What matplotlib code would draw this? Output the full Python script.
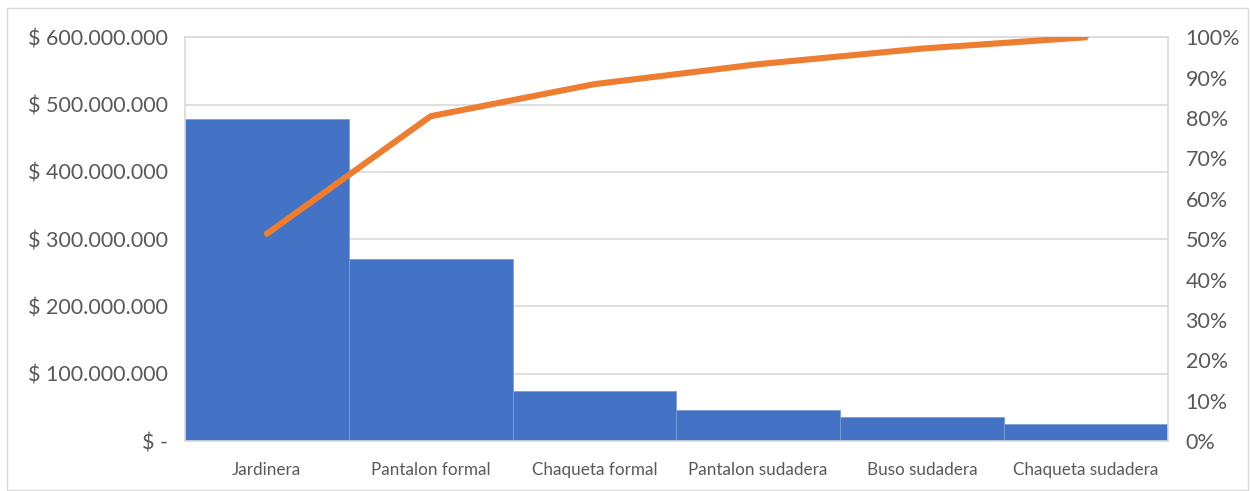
import matplotlib
matplotlib.use("Agg")
import matplotlib.pyplot as plt
from matplotlib.ticker import FuncFormatter, MultipleLocator
from matplotlib.patches import Rectangle

categories = ["Jardinera", "Pantalon formal", "Chaqueta formal",
              "Pantalon sudadera", "Buso sudadera", "Chaqueta sudadera"]
ventas = [478_000_000, 271_000_000, 74_000_000, 46_000_000, 36_000_000, 26_000_000]

total = sum(ventas)
acumulado = []
s = 0
for v in ventas:
    s += v
    acumulado.append(s / total)

plt.rcParams["font.family"] = ["Lato", "DejaVu Sans"]
text_color = "#595959"
grid_color = "#D9D9D9"

fig = plt.figure(figsize=(12.5, 4.91), dpi=100)
ax = fig.add_axes([0.148, 0.1018, 0.786, 0.8222])

x = list(range(len(categories)))
ax.bar(x, ventas, width=1.0, color="#4472C4", edgecolor="#7C9CD8", linewidth=0.6, zorder=2)
ax.set_xlim(-0.5, len(categories) - 0.5)
ax.set_ylim(0, 600_000_000)
ax.yaxis.set_major_locator(MultipleLocator(100_000_000))


def pesos(v, pos):
    if v == 0:
        return "$ -"
    return "$ " + f"{int(v):,}".replace(",", ".")


ax.yaxis.set_major_formatter(FuncFormatter(pesos))
ax.grid(axis="y", color=grid_color, linewidth=1.2, zorder=0)
ax.set_axisbelow(True)
ax.set_xticks(x)
ax.set_xticklabels(categories, fontsize=12.3, color=text_color)
ax.tick_params(axis="x", length=0, pad=15)
ax.tick_params(axis="y", length=0, pad=12, labelsize=15.5, labelcolor=text_color)
for side in ["left", "top", "right", "bottom"]:
    ax.spines[side].set_color(grid_color)
    ax.spines[side].set_linewidth(1.2)

ax2 = ax.twinx()
ax2.plot(x, acumulado, color="#ED7D31", linewidth=4.4, solid_capstyle="round", zorder=3)
ax2.set_ylim(0, 1.0)
ax2.yaxis.set_major_locator(MultipleLocator(0.1))
ax2.yaxis.set_major_formatter(FuncFormatter(lambda v, p: f"{round(v * 100)}%"))
ax2.tick_params(axis="y", length=0, pad=13, labelsize=15.5, labelcolor=text_color)
for sp in ax2.spines.values():
    sp.set_visible(False)

fig.patches.append(Rectangle((7 / 1250, 0.002), 1 - 9 / 1250, 1 - 8 / 491 - 0.002,
                             transform=fig.transFigure, fill=False,
                             edgecolor=grid_color, linewidth=1.0))

fig.savefig("out.png", dpi=100)
